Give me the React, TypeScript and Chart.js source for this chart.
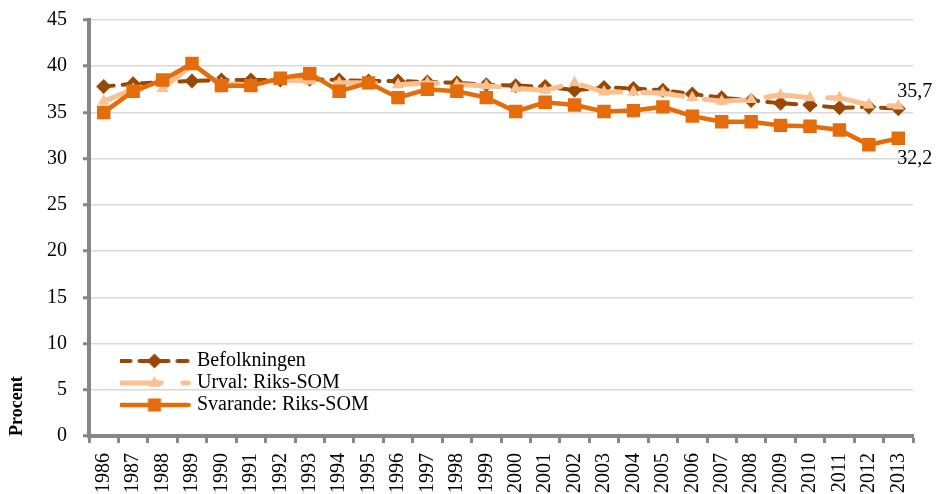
import React, { useEffect, useRef } from 'react';
import { Chart, registerables } from 'chart.js';

Chart.register(...registerables);

const years = [
  '1986', '1987', '1988', '1989', '1990', '1991', '1992', '1993', '1994', '1995',
  '1996', '1997', '1998', '1999', '2000', '2001', '2002', '2003', '2004', '2005',
  '2006', '2007', '2008', '2009', '2010', '2011', '2012', '2013',
];

const befolkningen = [
  37.8, 38.1, 38.3, 38.4, 38.5, 38.5, 38.5, 38.6, 38.5, 38.4,
  38.4, 38.3, 38.2, 38.0, 37.9, 37.8, 37.4, 37.7, 37.6, 37.4,
  37.0, 36.6, 36.3, 36.0, 35.8, 35.5, 35.6, 35.4,
];

const urval = [
  36.2, 37.5, 37.6, 40.1, 38.1, 38.0, 38.5, 38.4, 38.2, 38.2,
  38.0, 38.2, 38.0, 37.9, 37.6, 37.4, 38.2, 37.2, 37.2, 37.1,
  36.6, 36.2, 36.4, 36.9, 36.6, 36.6, 35.8, 35.7,
];

const svarande = [
  35.0, 37.3, 38.5, 40.3, 37.9, 37.9, 38.7, 39.2, 37.3, 38.2,
  36.6, 37.5, 37.3, 36.6, 35.1, 36.1, 35.8, 35.1, 35.2, 35.6,
  34.6, 34.0, 34.0, 33.6, 33.5, 33.1, 31.5, 32.2,
];

const seriesLabels = ['Befolkningen', 'Urval: Riks-SOM', 'Svarande: Riks-SOM'];
const axisTitle = 'Procent';
const yMin = 0;
const yMax = 45;
const yStep = 5;

const FONT = "'Liberation Serif', 'Times New Roman', serif";
const FS = 20;
const C_BEF = '#974806';
const C_URV = '#FAC090';
const C_SVA = '#E46C0A';
const AXIS = '#878787';
const GRID = '#D9D9D9';

const fmt = (v: number) => v.toFixed(1).replace('.', ',');

function drawMarker(g: CanvasRenderingContext2D, kind: string, x: number, y: number, r: number) {
  g.beginPath();
  if (kind === 'diamond') {
    g.moveTo(x, y - r);
    g.lineTo(x + r, y);
    g.lineTo(x, y + r);
    g.lineTo(x - r, y);
  } else if (kind === 'triangle') {
    g.moveTo(x, y - r);
    g.lineTo(x + r * 0.87, y + r * 0.55);
    g.lineTo(x - r * 0.87, y + r * 0.55);
  } else {
    g.rect(x - r, y - r, 2 * r, 2 * r);
  }
  g.closePath();
  g.fill();
}

function makeIcon(color: string, lw: number, dash: number[], kind: string, r: number) {
  const c = document.createElement('canvas');
  c.width = 72;
  c.height = 22;
  const g = c.getContext('2d')!;
  g.strokeStyle = color;
  g.fillStyle = color;
  g.lineWidth = lw;
  g.lineCap = 'round';
  g.setLineDash(dash);
  g.beginPath();
  g.moveTo(lw / 2, 11);
  g.lineTo(72 - lw / 2, 11);
  g.stroke();
  g.setLineDash([]);
  drawMarker(g, kind, 36, 11, r);
  return c;
}

const legendPlacer = {
  id: 'legendPlacer',
  afterLayout(chart: any) {
    const lg = chart.legend;
    if (!lg) return;
    const w = lg.width;
    const h = lg.height;
    lg.left = chart.chartArea.left + 31;
    lg.top = chart.chartArea.bottom - 87;
    lg.right = lg.left + w;
    lg.bottom = lg.top + h;
  },
};

const endLabels = {
  id: 'endLabels',
  afterDraw(chart: any) {
    const ctx = chart.ctx;
    ctx.save();
    ctx.font = `${FS}px ${FONT}`;
    ctx.fillStyle = '#000';
    ctx.textAlign = 'left';
    ctx.textBaseline = 'middle';
    const specs = [
      { ds: 1, dy: -14 },
      { ds: 2, dy: 20 },
    ];
    for (const s of specs) {
      const meta = chart.getDatasetMeta(s.ds);
      const last = meta.data.length - 1;
      const pt = meta.data[last];
      const v = chart.data.datasets[s.ds].data[last] as number;
      ctx.fillText(fmt(v), pt.x - 1, pt.y + s.dy);
    }
    ctx.restore();
  },
};

export default function App() {
  const ref = useRef<HTMLCanvasElement | null>(null);

  useEffect(() => {
    if (!ref.current) return;
    const icons = [
      makeIcon(C_BEF, 4, [10, 9], 'diamond', 7.5),
      makeIcon(C_URV, 5, [40, 22], 'triangle', 7),
      makeIcon(C_SVA, 4.5, [], 'square', 6.5),
    ];
    const chart = new Chart(ref.current, {
      type: 'line',
      data: {
        labels: years,
        datasets: [
          {
            label: seriesLabels[0],
            data: befolkningen,
            borderColor: C_BEF,
            backgroundColor: C_BEF,
            borderWidth: 4,
            borderDash: [10, 9],
            borderCapStyle: 'round',
            pointStyle: 'rectRot',
            pointRadius: 7.5,
            pointBorderWidth: 0,
            pointBackgroundColor: C_BEF,
            order: 2,
          },
          {
            label: seriesLabels[1],
            data: urval,
            borderColor: C_URV,
            backgroundColor: C_URV,
            borderWidth: 5,
            borderDash: [40, 22],
            borderCapStyle: 'round',
            pointStyle: 'triangle',
            pointRadius: 7,
            pointBorderWidth: 0,
            pointBackgroundColor: C_URV,
            order: 1,
          },
          {
            label: seriesLabels[2],
            data: svarande,
            borderColor: C_SVA,
            backgroundColor: C_SVA,
            borderWidth: 4.5,
            pointStyle: 'rect',
            pointRadius: 9.5,
            pointBorderWidth: 0,
            pointBackgroundColor: C_SVA,
            order: 0,
          },
        ],
      },
      options: {
        responsive: false,
        animation: false,
        events: [],
        layout: { padding: { left: 0, right: 24, top: 20, bottom: 0 } },
        plugins: {
          tooltip: { enabled: false },
          legend: {
            position: 'chartArea',
            align: 'start',
            labels: {
              usePointStyle: true,
              pointStyleWidth: 65,
              boxHeight: FS,
              padding: 2,
              color: '#000',
              font: { family: FONT, size: FS },
              sort: (a: any, b: any) => a.datasetIndex - b.datasetIndex,
              generateLabels: (chart: any) => {
                const base = Chart.defaults.plugins.legend.labels.generateLabels(chart);
                return base.map((item: any) => ({ ...item, pointStyle: icons[item.datasetIndex] }));
              },
            },
          },
        },
        scales: {
          x: {
            offset: true,
            ticks: {
              autoSkip: false,
              minRotation: 90,
              maxRotation: 90,
              color: '#000',
              padding: 10,
              font: { family: FONT, size: FS },
            },
            grid: {
              offset: true,
              drawOnChartArea: false,
              drawTicks: true,
              tickLength: 7,
              tickColor: AXIS,
              tickWidth: 3,
            },
            border: { color: AXIS, width: 4 },
            afterFit: (s: any) => {
              s.height = 58;
            },
          },
          y: {
            min: yMin,
            max: yMax,
            ticks: {
              stepSize: yStep,
              color: '#000',
              padding: 16,
              font: { family: FONT, size: FS },
            },
            grid: {
              color: GRID,
              lineWidth: 1.5,
              tickLength: 6,
              tickColor: AXIS,
              tickWidth: 3,
            },
            border: { color: AXIS, width: 4 },
            title: {
              display: true,
              text: axisTitle,
              align: 'start',
              color: '#000',
              padding: { top: 7, bottom: 0 },
              font: { family: FONT, size: 18, weight: 'bold' },
            },
            afterFit: (s: any) => {
              s.width = 89;
              s.paddingTop = 0;
              s.paddingBottom = 0;
            },
          },
        },
      },
      plugins: [legendPlacer, endLabels],
    } as any);
    return () => chart.destroy();
  }, []);

  return (
    <div style={{ position: 'absolute', left: 0, top: 0, width: 937, height: 494, background: '#fff' }}>
      <canvas ref={ref} width={937} height={494} style={{ display: 'block' }} />
    </div>
  );
}
